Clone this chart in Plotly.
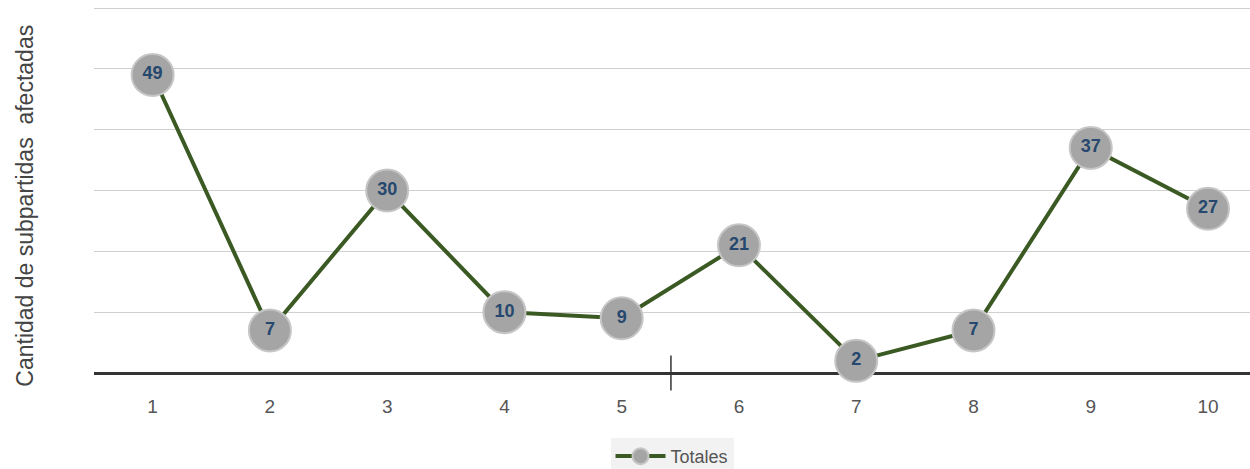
import plotly.graph_objects as go

categories = [1, 2, 3, 4, 5, 6, 7, 8, 9, 10]
totales = [49, 7, 30, 10, 9, 21, 2, 7, 37, 27]
tick_labels = ["1", "2", "3", "4", "5", "6", "7", "8", "9", "10"]

fig = go.Figure()
fig.add_trace(go.Scatter(
    x=categories, y=totales, mode="lines+markers+text",
    name="Totales",
    line=dict(color="#3b5a23", width=4),
    marker=dict(size=42, color="#a5a5a5", line=dict(color="#c6c6c6", width=2)),
    text=[str(v) for v in totales], textposition="middle center",
    textfont=dict(family="Liberation Sans", size=18, color="#27486e", weight="bold"),
    cliponaxis=False,
))

fig.add_shape(type="line", xref="x", yref="paper", x0=5.42, x1=5.42, y0=-0.047, y1=0.047,
              line=dict(color="#333333", width=1.5))

fig.add_annotation(text="Cantidad de subpartidas  afectadas", xref="paper", yref="paper",
                   x=-0.06, y=0.45, textangle=-90, showarrow=False,
                   xanchor="center", yanchor="middle",
                   font=dict(family="Liberation Sans", size=23, color="#444444"))

fig.update_layout(
    width=1250, height=469,
    margin=dict(l=94, r=0, t=2, b=96, autoexpand=False),
    paper_bgcolor="white", plot_bgcolor="white",
    font=dict(family="Liberation Sans", color="#555555"),
    showlegend=True,
    legend=dict(orientation="h", x=0.5, xanchor="center", y=-0.175, yanchor="top",
                bgcolor="#f2f2f2", font=dict(size=18, color="#555555"),
                itemwidth=50),
    xaxis=dict(range=[0.5, 10.358], tickvals=categories, ticktext=tick_labels,
               showgrid=False, zeroline=False, showline=False, automargin=False,
               tickfont=dict(size=19, color="#555555"), ticks="outside", ticklen=16,
               tickcolor="rgba(0,0,0,0)"),
    yaxis=dict(range=[0, 61], dtick=10, showticklabels=False, showgrid=True, automargin=False,
               gridcolor="#d0d0d0", gridwidth=1, zeroline=True, zerolinecolor="#333333",
               zerolinewidth=3, showline=False),
)

fig.write_html("out.html", config={"displayModeBar": False},
               post_script="document.body.style.margin='0';document.body.style.overflow='hidden';")
